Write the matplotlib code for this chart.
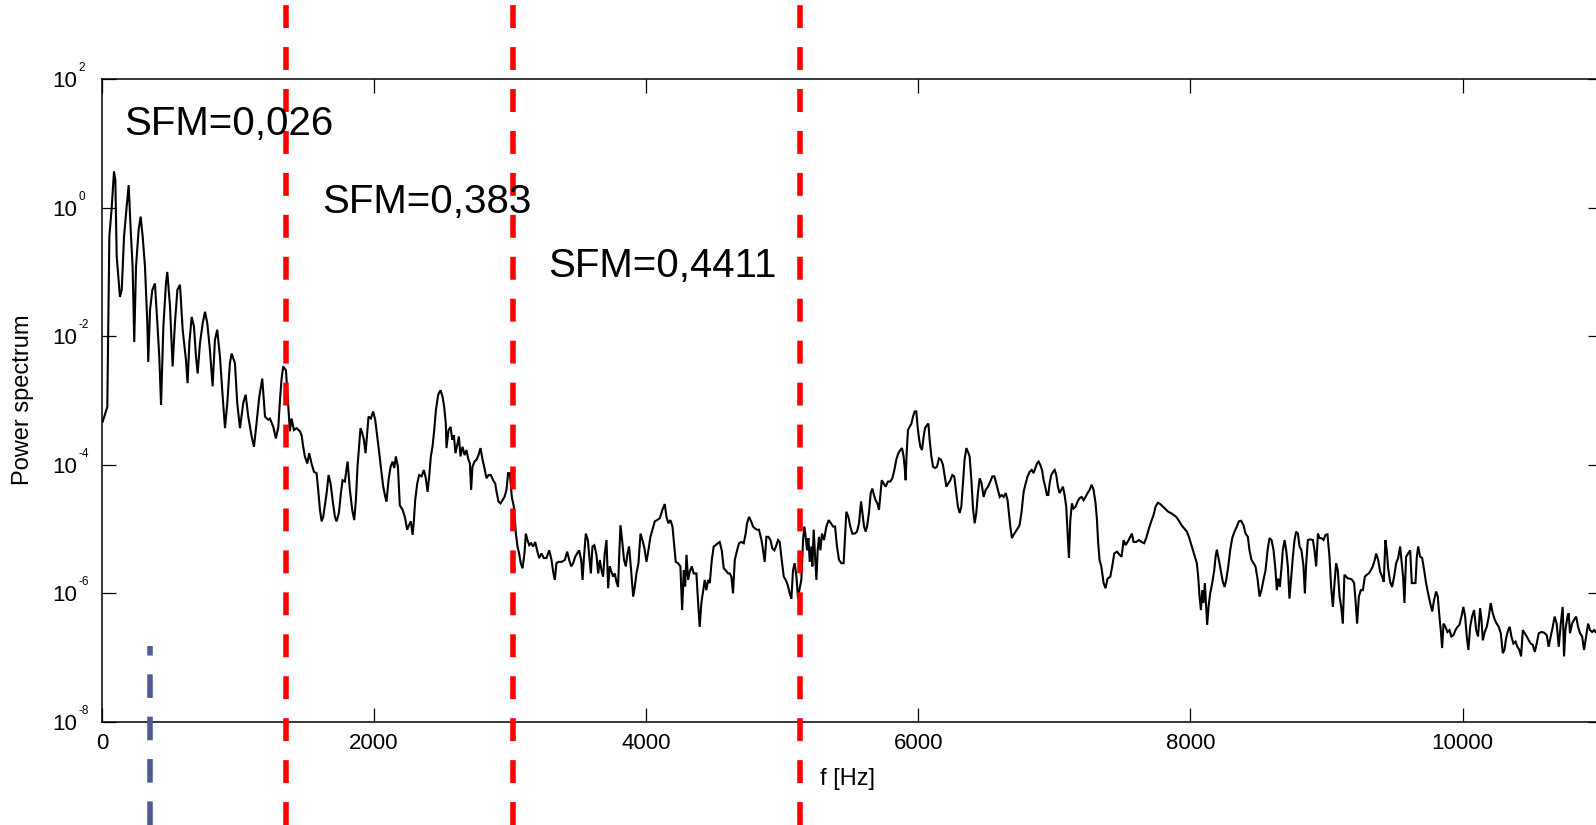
import matplotlib
matplotlib.use("Agg")
import matplotlib.pyplot as plt
import numpy as np
from matplotlib.ticker import FuncFormatter, NullLocator

plt.rcParams['font.family'] = ['Liberation Sans', 'DejaVu Sans']
plt.rcParams['lines.scale_dashes'] = False

# ---------------- data (frequency in Hz, log10 of power) ----------------
band1_pts = [
    (5, -3.33), (39, -3.10), (54, -0.45), (71, -0.01), (88, 0.56), (98, 0.43), (108, -0.76),
    (132, -1.39), (145, -1.28), (162, -0.45), (181, 0.01), (196, 0.35), (211, -0.35), (225, -0.92),
    (237, -2.09), (250, -0.92), (269, -0.35), (284, -0.14), (299, -0.45), (316, -0.92), (333, -1.80),
    (340, -2.40), (353, -1.59), (370, -1.28), (389, -1.18), (407, -1.80), (421, -2.32), (434, -3.07),
    (451, -1.85), (470, -1.18), (480, -1.00), (500, -1.54), (519, -2.47), (536, -1.80), (554, -1.28),
    (573, -1.20), (593, -1.90), (617, -2.37), (629, -2.73), (642, -2.11), (659, -1.70), (676, -1.85),
    (691, -2.32), (703, -2.58), (720, -2.11), (740, -1.80), (757, -1.62), (774, -1.80), (793, -2.21),
    (813, -2.78), (830, -2.06), (847, -1.90), (867, -2.32), (887, -2.94), (904, -3.43), (921, -3.04),
    (940, -2.42), (953, -2.27), (977, -2.42), (994, -3.04), (1014, -3.43), (1038, -3.04), (1056, -2.91),
    (1075, -3.25), (1100, -3.56), (1117, -3.72), (1136, -3.35), (1156, -2.94), (1178, -2.66),
    (1198, -3.25), (1222, -3.30),
]

band2_pts = [
    (1234, -3.28), (1259, -3.41), (1278, -3.59), (1296, -3.41), (1308, -2.99), (1320, -2.66),
    (1332, -2.47), (1352, -2.53), (1369, -3.10), (1381, -3.48), (1393, -3.28), (1411, -3.46),
    (1430, -3.43), (1455, -3.48), (1467, -3.54), (1479, -3.72), (1491, -3.87), (1509, -3.98),
    (1523, -3.82), (1540, -3.98), (1558, -4.11), (1577, -4.13), (1589, -4.39), (1602, -4.70),
    (1614, -4.88), (1626, -4.81), (1638, -4.63), (1651, -4.44), (1665, -4.16), (1680, -4.29),
    (1695, -4.55), (1712, -4.81), (1724, -4.88), (1741, -4.75), (1756, -4.44), (1768, -4.24),
    (1785, -4.26), (1805, -3.95), (1822, -4.39), (1839, -4.70), (1854, -4.86), (1866, -4.55),
    (1878, -4.03), (1891, -3.67), (1900, -3.43), (1913, -3.51), (1925, -3.61), (1937, -3.82),
    (1949, -3.51), (1959, -3.25), (1976, -3.28), (1993, -3.17), (2008, -3.30), (2023, -3.56),
    (2038, -3.82), (2052, -4.08), (2067, -4.34), (2082, -4.50), (2091, -4.57), (2106, -4.24),
    (2121, -4.03), (2136, -3.95), (2148, -4.05), (2160, -3.87), (2175, -4.03), (2189, -4.63),
    (2209, -4.70), (2226, -4.81), (2243, -5.01), (2258, -4.93), (2270, -4.88), (2283, -5.09),
    (2292, -4.88), (2302, -4.55), (2317, -4.29), (2331, -4.16), (2349, -4.18), (2366, -4.08),
    (2380, -4.21), (2393, -4.42), (2405, -4.18), (2417, -3.87), (2429, -3.72), (2442, -3.46),
    (2454, -3.15), (2471, -2.91), (2488, -2.84), (2503, -2.94), (2515, -3.10), (2527, -3.36),
    (2532, -3.74), (2547, -3.46), (2562, -3.41), (2574, -3.61), (2586, -3.54), (2598, -3.82),
    (2611, -3.69), (2623, -3.56), (2635, -3.87), (2650, -3.72), (2665, -3.85), (2679, -3.77),
    (2691, -3.90), (2704, -3.98), (2713, -4.39), (2723, -4.03), (2738, -3.95), (2753, -3.92),
    (2767, -3.85), (2782, -3.74), (2797, -3.92), (2811, -4.05), (2826, -4.21), (2841, -4.16),
    (2858, -4.16), (2875, -4.24), (2890, -4.29), (2900, -4.42), (2914, -4.57), (2929, -4.60),
    (2944, -4.55), (2958, -4.50), (2973, -4.39), (2985, -4.13), (2998, -4.13),
]

band3_pts = [
    (3012, -4.50), (3027, -4.65), (3042, -5.07), (3054, -5.27), (3066, -5.38), (3078, -5.53),
    (3091, -5.61), (3105, -5.38), (3115, -5.07), (3127, -5.17), (3140, -5.25), (3154, -5.22),
    (3169, -5.27), (3184, -5.20), (3198, -5.33), (3213, -5.45), (3230, -5.38), (3247, -5.45),
    (3267, -5.45), (3287, -5.33), (3304, -5.48), (3316, -5.66), (3328, -5.79), (3340, -5.53),
    (3355, -5.51), (3377, -5.51), (3402, -5.48), (3419, -5.35), (3434, -5.48), (3448, -5.58),
    (3463, -5.53), (3478, -5.43), (3492, -5.38), (3507, -5.33), (3522, -5.48), (3532, -5.79),
    (3541, -5.48), (3556, -5.07), (3571, -5.17), (3580, -5.38), (3593, -5.69), (3605, -5.27),
    (3619, -5.25), (3634, -5.40), (3647, -5.69), (3659, -5.48), (3671, -5.64), (3683, -5.74),
    (3695, -5.38), (3708, -5.17), (3720, -5.92), (3732, -5.58), (3744, -5.66), (3757, -5.74),
    (3769, -5.69), (3781, -5.82), (3793, -5.90), (3801, -5.43), (3811, -4.94), (3825, -5.22),
    (3837, -5.48), (3850, -5.58), (3862, -5.38), (3874, -5.27), (3889, -5.64), (3904, -6.05),
    (3916, -5.90), (3928, -5.69), (3943, -5.53), (3958, -5.07), (3972, -5.17), (3987, -5.30),
    (4002, -5.51), (4016, -5.33), (4031, -5.12), (4046, -5.01), (4063, -4.88), (4080, -4.86),
    (4100, -4.83), (4119, -4.70), (4136, -4.61), (4149, -4.81), (4163, -4.91), (4178, -4.86),
    (4193, -4.96), (4202, -5.17), (4217, -5.51), (4234, -5.53), (4251, -5.58), (4264, -6.26),
    (4276, -5.64), (4286, -5.89), (4296, -5.40), (4308, -5.79), (4320, -5.66), (4335, -5.58),
    (4349, -5.69), (4369, -5.69), (4381, -6.13), (4393, -6.52), (4406, -6.13), (4418, -5.97),
    (4430, -5.79), (4442, -5.95), (4455, -5.79), (4467, -5.84), (4482, -5.48), (4496, -5.27),
    (4511, -5.25), (4526, -5.22), (4540, -5.20), (4555, -5.33), (4570, -5.61), (4584, -5.64),
    (4602, -5.69), (4614, -5.69), (4626, -5.74), (4638, -6.00), (4651, -5.48), (4668, -5.33),
    (4682, -5.22), (4700, -5.20), (4717, -5.22), (4731, -5.07), (4741, -4.91), (4756, -4.81),
    (4771, -4.88), (4785, -4.96), (4800, -4.99), (4815, -5.01), (4829, -5.01), (4847, -5.17),
    (4859, -5.33), (4871, -5.51), (4883, -5.12), (4898, -5.12), (4913, -5.17), (4927, -5.30),
    (4942, -5.33), (4957, -5.25), (4969, -5.17), (4981, -5.20), (4996, -5.48), (5011, -5.74),
    (5025, -5.79), (5040, -5.87), (5055, -6.00), (5067, -6.08), (5079, -5.64), (5091, -5.53),
    (5104, -5.74), (5116, -6.08),
]

band4_pts = [
    (5128, -5.92), (5140, -5.79), (5153, -5.17), (5162, -4.96), (5172, -5.12), (5182, -5.33),
    (5192, -5.14), (5202, -5.51), (5214, -5.27), (5221, -5.58), (5231, -5.01), (5241, -5.43),
    (5251, -5.79), (5260, -5.33), (5270, -5.12), (5280, -5.33), (5292, -5.07), (5307, -5.17),
    (5324, -4.96), (5341, -4.86), (5358, -4.91), (5373, -4.96), (5388, -4.96), (5402, -5.27),
    (5417, -5.48), (5434, -5.53), (5451, -5.53), (5461, -5.12), (5471, -4.73), (5486, -4.81),
    (5500, -4.96), (5515, -5.07), (5532, -5.07), (5549, -5.04), (5564, -4.91), (5579, -4.57),
    (5589, -4.75), (5601, -4.96), (5613, -5.04), (5623, -4.96), (5637, -4.75), (5650, -4.44),
    (5662, -4.37), (5674, -4.47), (5686, -4.55), (5699, -4.60), (5711, -4.70), (5721, -4.47),
    (5731, -4.24), (5745, -4.29), (5760, -4.34), (5777, -4.26), (5794, -4.26), (5809, -4.21),
    (5824, -4.08), (5838, -3.92), (5853, -3.82), (5868, -3.77), (5880, -3.74), (5892, -3.87),
    (5900, -4.05), (5907, -4.24), (5914, -3.82), (5924, -3.46), (5936, -3.41), (5949, -3.36),
    (5961, -3.25), (5973, -3.17), (5985, -3.17), (5995, -3.41), (6005, -3.59), (6015, -3.72),
    (6027, -3.77), (6039, -3.56), (6049, -3.43), (6064, -3.38), (6074, -3.36), (6083, -3.61),
    (6096, -3.87), (6108, -4.03), (6123, -4.05), (6137, -4.03), (6152, -3.90), (6167, -3.92),
    (6181, -4.00), (6194, -4.18), (6206, -4.34), (6220, -4.29), (6235, -4.24), (6250, -4.16),
    (6264, -4.18), (6279, -4.44), (6291, -4.65), (6304, -4.75), (6316, -4.65), (6328, -4.29),
    (6340, -3.92), (6353, -3.74), (6365, -3.80), (6377, -3.87), (6390, -4.24), (6402, -4.68),
    (6414, -4.91), (6426, -4.75), (6438, -4.44), (6451, -4.21), (6465, -4.29), (6480, -4.50),
    (6495, -4.39), (6512, -4.34), (6529, -4.26), (6544, -4.18), (6559, -4.18), (6573, -4.29),
    (6585, -4.39), (6598, -4.50), (6612, -4.47), (6627, -4.50), (6642, -4.44), (6656, -4.55),
    (6666, -4.75), (6676, -4.96), (6688, -5.14), (6700, -5.09), (6715, -5.04), (6730, -4.99),
    (6744, -4.94), (6759, -4.73), (6774, -4.42), (6789, -4.29), (6803, -4.18), (6818, -4.11),
    (6833, -4.08), (6847, -4.13), (6860, -4.05), (6872, -3.98), (6884, -3.95), (6896, -4.00),
    (6909, -4.08), (6921, -4.24), (6933, -4.34), (6945, -4.47), (6955, -4.47), (6965, -4.29),
    (6977, -4.16), (6990, -4.11), (7002, -4.08), (7014, -4.16), (7026, -4.34), (7038, -4.44),
    (7051, -4.39), (7063, -4.34), (7075, -4.47), (7087, -4.65), (7100, -5.17), (7107, -5.45),
    (7117, -4.86), (7129, -4.60), (7141, -4.68), (7156, -4.65), (7171, -4.57), (7185, -4.52),
    (7200, -4.50), (7215, -4.55), (7229, -4.50), (7244, -4.44), (7259, -4.39), (7274, -4.31),
    (7288, -4.39), (7303, -4.60), (7313, -4.86), (7322, -5.22), (7332, -5.48),
]

band5_pts = [
    (7345, -5.58), (7362, -5.84), (7376, -5.92), (7391, -5.77), (7411, -5.74), (7425, -5.58),
    (7440, -5.38), (7460, -5.35), (7479, -5.40), (7494, -5.43), (7509, -5.17), (7523, -5.25),
    (7538, -5.20), (7558, -5.12), (7570, -5.07), (7582, -5.20), (7602, -5.20), (7621, -5.17),
    (7641, -5.20), (7660, -5.22), (7675, -5.14), (7695, -4.99), (7712, -4.88), (7729, -4.78),
    (7744, -4.65), (7761, -4.59), (7778, -4.61), (7798, -4.65), (7817, -4.69), (7837, -4.73),
    (7856, -4.75), (7876, -4.78), (7896, -4.81), (7915, -4.87), (7935, -4.94), (7954, -4.99),
    (7974, -5.04), (7989, -5.12), (8003, -5.22), (8018, -5.33), (8033, -5.43), (8047, -5.53),
    (8057, -5.74), (8067, -6.05), (8077, -6.26), (8087, -5.95), (8096, -6.15), (8106, -5.84),
    (8116, -6.21), (8123, -6.49), (8133, -6.21), (8145, -6.00), (8160, -5.84), (8175, -5.64),
    (8185, -5.43), (8194, -5.32), (8209, -5.48), (8224, -5.66), (8238, -5.82), (8251, -5.90),
    (8263, -5.79), (8278, -5.58), (8292, -5.33), (8307, -5.14), (8324, -5.04), (8341, -4.96),
    (8356, -4.88), (8373, -4.87), (8390, -4.94), (8405, -5.07), (8422, -5.12), (8434, -5.33),
    (8449, -5.48), (8464, -5.53), (8478, -5.58), (8493, -5.77), (8508, -6.05), (8522, -5.95),
    (8537, -5.79), (8552, -5.64), (8567, -5.33), (8581, -5.14), (8596, -5.17), (8611, -5.33),
    (8625, -5.64), (8635, -5.95), (8645, -5.77), (8657, -5.90), (8670, -5.58), (8679, -5.33),
    (8692, -5.17), (8704, -5.33), (8716, -5.58), (8728, -6.08), (8741, -5.74), (8753, -5.43),
    (8765, -5.17), (8777, -5.04), (8790, -5.07), (8802, -5.27), (8816, -5.33), (8831, -5.58),
    (8841, -6.00), (8851, -5.53), (8863, -5.17), (8880, -5.16), (8900, -5.17), (8912, -5.33),
    (8924, -5.58), (8937, -5.07), (8949, -5.14), (8963, -5.14), (8978, -5.17), (8993, -5.09),
    (9007, -5.08), (9022, -5.43), (9034, -5.90), (9047, -6.21), (9059, -5.84), (9071, -5.53),
    (9083, -5.64), (9096, -6.05), (9108, -6.21), (9120, -6.47), (9132, -5.71), (9145, -5.74),
    (9159, -5.77), (9174, -5.77), (9189, -5.79), (9203, -5.84), (9213, -6.10), (9225, -6.47),
    (9238, -6.05), (9252, -5.95), (9267, -5.95), (9282, -5.74), (9296, -5.71), (9311, -5.69),
    (9326, -5.64), (9340, -5.58), (9355, -5.48), (9365, -5.38), (9380, -5.48), (9394, -5.66),
    (9409, -5.74), (9421, -5.82), (9433, -5.17), (9443, -5.33), (9453, -5.61), (9468, -5.82),
    (9482, -5.90), (9497, -5.74), (9512, -5.53), (9527, -5.45), (9541, -5.27), (9551, -5.48),
    (9563, -5.74), (9573, -6.15), (9585, -5.43), (9600, -5.38), (9615, -5.33), (9627, -5.84),
    (9639, -5.84), (9654, -5.84), (9664, -5.43), (9674, -5.27), (9688, -5.43), (9703, -5.45),
    (9718, -5.64), (9732, -5.84), (9747, -6.00), (9762, -6.15), (9777, -6.28), (9791, -6.10),
    (9806, -5.97), (9818, -6.05), (9830, -6.36), (9840, -6.57), (9850, -6.85), (9860, -6.47),
    (9874, -6.52), (9889, -6.60), (9904, -6.57), (9918, -6.67), (9933, -6.65), (9948, -6.57),
    (9963, -6.52), (9977, -6.49), (9992, -6.36), (10006, -6.21), (10019, -6.36), (10031, -6.67),
    (10043, -6.88), (10056, -6.52), (10070, -6.36), (10085, -6.26), (10100, -6.57), (10114, -6.67),
    (10129, -6.23), (10139, -6.41), (10149, -6.73), (10163, -6.60), (10178, -6.52), (10193, -6.36),
    (10207, -6.15), (10222, -6.31), (10237, -6.41), (10251, -6.47), (10266, -6.52), (10281, -6.62),
    (10296, -6.93), (10308, -6.88), (10320, -6.70), (10335, -6.57), (10347, -6.52), (10359, -6.67),
    (10374, -6.78), (10389, -6.75), (10403, -6.83), (10418, -6.88), (10430, -6.98), (10443, -6.57),
    (10457, -6.62), (10472, -6.67), (10487, -6.73), (10501, -6.78), (10516, -6.80), (10531, -6.91),
    (10545, -6.78), (10560, -6.62), (10580, -6.60), (10599, -6.61), (10619, -6.65), (10633, -6.83),
    (10648, -6.67), (10663, -6.52), (10677, -6.36), (10692, -6.47), (10707, -6.83), (10722, -6.47),
    (10736, -6.21), (10746, -6.98), (10756, -6.57), (10771, -6.36), (10780, -6.31), (10790, -6.62),
    (10805, -6.47), (10820, -6.41), (10835, -6.36), (10849, -6.52), (10864, -6.62), (10879, -6.67),
    (10893, -6.88), (10908, -6.67), (10923, -6.47), (10937, -6.57), (10952, -6.60), (10967, -6.57),
    (10977, -6.60), (11000, -6.58), (11025, -6.62),
]

band_edges_hz = [1352, 3018, 5128]      # red dashed band boundaries
marker_hz = [353]                        # blue dashed marker
sfm_labels = ["SFM=0,026", "SFM=0,383", "SFM=0,4411"]
xtick_values = [0, 2000, 4000, 6000, 8000, 10000]
ytick_exponents = [-8, -6, -4, -2, 0, 2]

# ---------------- figure ----------------
W, H = 1596, 825
fig = plt.figure(figsize=(W / 100, H / 100), dpi=100)
ax_left, ax_right, ax_top, ax_bot = 102, 1602, 79, 722
ax = fig.add_axes([ax_left / W, 1 - ax_bot / H, (ax_right - ax_left) / W, (ax_bot - ax_top) / H])

pts = band1_pts + band2_pts + band3_pts + band4_pts + band5_pts
freq = np.array([p[0] for p in pts], dtype=float)
power = 10.0 ** np.array([p[1] for p in pts])
ax.plot(freq, power, color='black', lw=1.5, zorder=2, solid_joinstyle='miter')

ax.set_yscale('log')
ax.set_xlim(0, 11025)
ax.set_ylim(1e-8, 1e2)
ax.set_xticks(xtick_values)
ax.set_xticklabels([str(v) for v in xtick_values])
ax.set_yticks([10.0 ** e for e in ytick_exponents])
ax.yaxis.set_minor_locator(NullLocator())
ax.yaxis.set_major_formatter(FuncFormatter(lambda v, p: '10'))
ax.tick_params(axis='both', direction='in', length=10, width=0.9, top=True, right=True,
               labelsize=16, colors='black')
ax.tick_params(axis='x', pad=8)
ax.tick_params(axis='y', pad=18)
for s in ax.spines.values():
    s.set_linewidth(1.1)

# small raised exponents, MATLAB style
for e in ytick_exponents:
    ax.annotate(str(e), xy=(0, 10.0 ** e), xycoords=('axes fraction', 'data'),
                xytext=(-16.8, 5.8), textcoords='offset points', ha='left', va='baseline',
                fontsize=8.5, annotation_clip=False)

# label texts
fig.text(848 / W, 1 - 779 / H, 'f [Hz]', ha='center', va='center', fontsize=17)
fig.text(23 / W, 1 - 400 / H, 'Power spectrum', ha='center', va='center', rotation=90, fontsize=17)

# dashed lines extending beyond the axes
span = ax_bot - ax_top
y_fig_bottom = -(H - ax_bot) / span
y_fig_top = ax_bot / span
for f in band_edges_hz:
    ax.axvline(f, ymin=y_fig_bottom, ymax=y_fig_top, color='#ff0000', lw=4.0,
               dashes=(16.5, 13.7), clip_on=False, zorder=5)
for f in marker_hz:
    ax.axvline(f, ymin=y_fig_bottom, ymax=(ax_bot - 646) / span, color='#4f5b93', lw=4.0,
               dashes=(17, 13.5), clip_on=False, zorder=5)

# SFM annotations
sfm_pos = [(124, 135), (322, 213), (548, 277)]
for txt, (px, py) in zip(sfm_labels, sfm_pos):
    fig.text(px / W, 1 - py / H, txt, ha='left', va='baseline', fontsize=29)

fig.savefig('out.png', dpi=100)
